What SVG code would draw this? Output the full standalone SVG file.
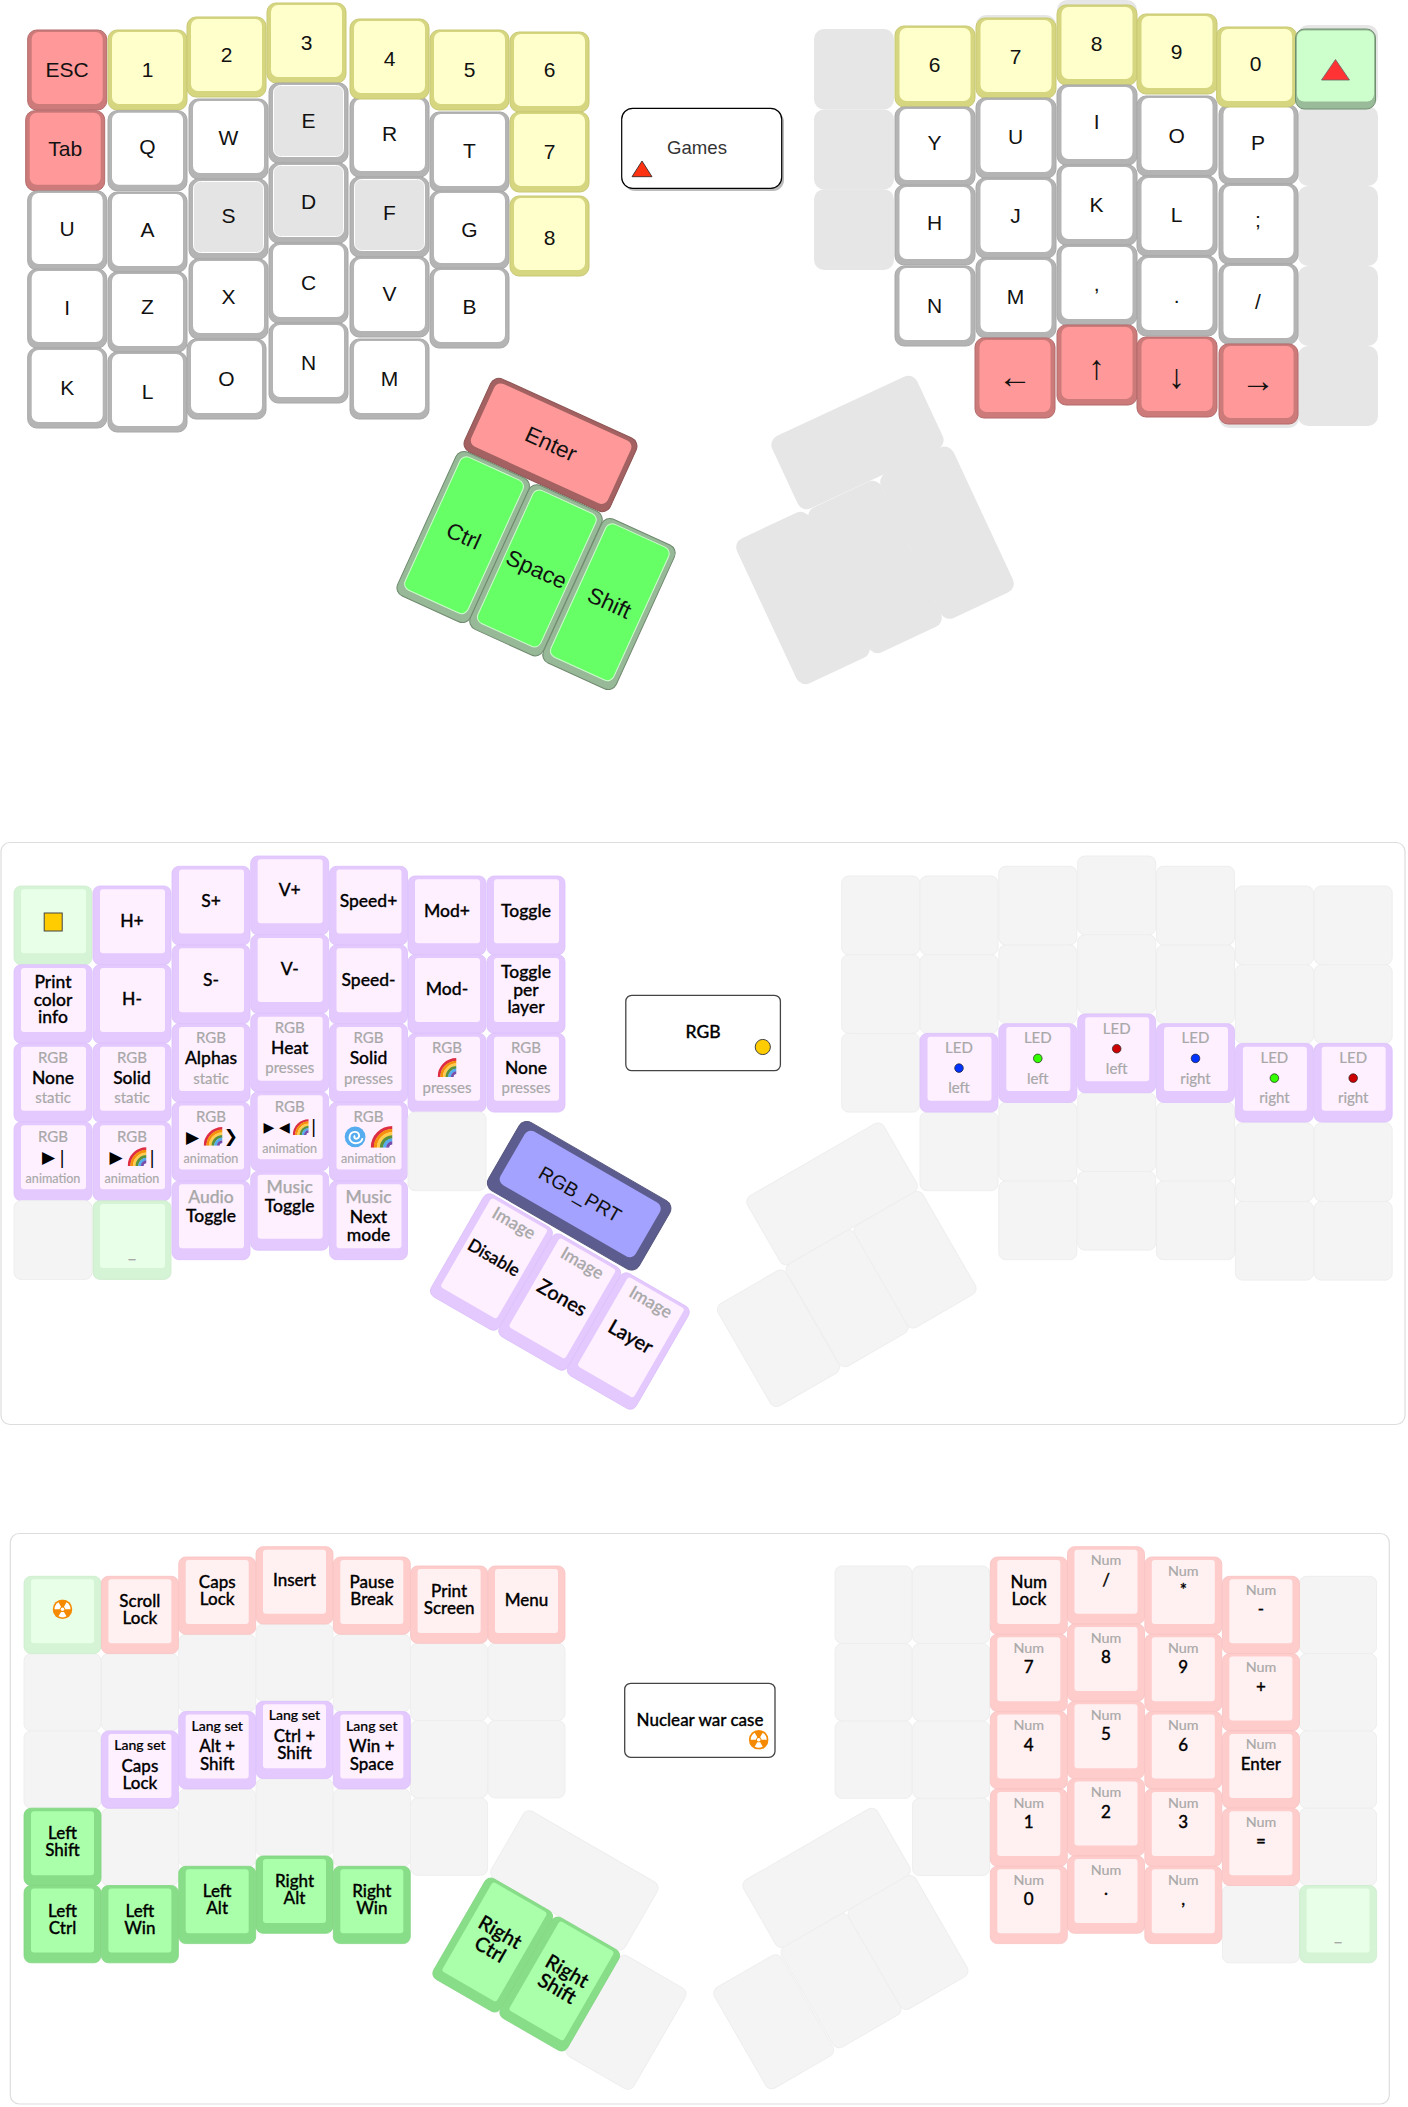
<svg xmlns="http://www.w3.org/2000/svg" xmlns:xlink="http://www.w3.org/1999/xlink" width="1408" height="2107" viewBox="0 0 1408 2107">
<style>
text{text-anchor:middle}
.s1 text{font-family:"Liberation Sans",Arial,sans-serif;font-size:21px;fill:#111}
.s1 text.th{font-size:22.5px}
.s1 text.ar{font-size:34px}
.s2 text,.s3 text{font-family:Lato,"Noto Sans",sans-serif;font-size:17.5px;font-weight:500;fill:#000;stroke:#000;stroke-width:.3px}
.s3 text{font-size:17px}
.s2 text.u,.s3 text.u{font-size:15px;fill:#a8a8a8;stroke:#a8a8a8;stroke-width:.2px;font-weight:400}
.s3 text.u{font-size:14.3px}
.s2 text.an{font-size:12.6px;fill:#a8a8a8;stroke:#a8a8a8;stroke-width:.15px;font-weight:400}
.s2 text.g2,.s3 text.g2{font-size:17.5px;fill:#a8a8a8;stroke:#a8a8a8;stroke-width:.25px}
.s3 text.ls{font-size:14px;stroke-width:.2px}
.s3 text.th{font-size:20px}
.s2 text.big{font-size:20px}
.s2 text.sym{font-family:"DejaVu Sans",sans-serif;font-size:17px;font-weight:400;stroke:none}
.s2 text.sm{font-size:14px}
.s2 text.prtx{font-family:"Liberation Sans",sans-serif;font-size:19.5px;font-weight:400;stroke:none;fill:#111}
.frame{fill:#fff;stroke:#ddd;stroke-width:1.2}
.legend{fill:#fff;stroke:#444;stroke-width:1.3}
.g1{fill:#e6e6e6}
.g3{fill:#f4f4f4;stroke:#eee;stroke-width:1}
.w .o{fill:#b4b4b4;stroke:#a8a8a8}.w .i{fill:#fff}
.a .o{fill:#b4b4b4;stroke:#a8a8a8}.a .i{fill:#e4e4e4;stroke:#fff}
.y .o{fill:#d6d680;stroke:#c9c974}.y .i{fill:#ffc}
.r .o{fill:#cc7a7a;stroke:#b56a6a}.r .i{fill:#f99}
.lg .o{fill:#99bb99;stroke:#6f906f}.lg .i{fill:#cfc}
.en .o{fill:#a36161;stroke:#8f5454}.en .i{fill:#f99}
.gr .o{fill:#97b997;stroke:#6f8a6f}.gr .i{fill:#6f6;stroke:#cfc}
.p .o{fill:#e4c9ff;stroke:#dcc0fb;stroke-width:.8}.p .i{fill:#fef0ff}
.pg .o{fill:#d5f3d5;stroke:#cdeccd;stroke-width:.8}.pg .i{fill:#e8ffe8}
.rr .o{fill:#fcc;stroke:#f8c2c2;stroke-width:.8}.rr .i{fill:#fff1f1}
.gn .o{fill:#8d8;stroke:#84d684;stroke-width:.8}.gn .i{fill:#afa}
.prt .o{fill:#5c5c8e;stroke:#55557f}.prt .i{fill:#a3a3ff}
</style>
<defs>
<symbol id="rb" viewBox="0 0 36 36"><g fill="none" stroke-width="5.4"><path d="M3 36A33 33 0 0 1 36 3" stroke="#dd2e44"/><path d="M8 36A28 28 0 0 1 36 8" stroke="#f4900c"/><path d="M13 36A23 23 0 0 1 36 13" stroke="#ffcc4d"/><path d="M18 36A18 18 0 0 1 36 18" stroke="#5c913b"/><path d="M23 36A13 13 0 0 1 36 23" stroke="#55acee"/><path d="M28 36A8 8 0 0 1 36 28" stroke="#744eaa"/></g></symbol>
<symbol id="hz" viewBox="-10 -10 20 20"><circle r="9.8" fill="#f58a00"/><g fill="#fff"><path d="M1.5 2.6L4 6.93A8 8 0 0 1-4 6.93L-1.5 2.6Z"/><path d="M1.5-2.6L4-6.93A8 8 0 0 1 8 0L3 0Z"/><path d="M-3 0L-8 0A8 8 0 0 1-4-6.93L-1.5-2.6Z"/><circle r="1.8"/></g></symbol>
<symbol id="sw" viewBox="0 0 36 36"><circle cx="18" cy="18" r="17" fill="#55acee"/><path d="M30 20C29 28 18 31 12 26C6 20 9 10 18 10C25 10 27 19 21 21C17 22 15 18 18 16" fill="none" stroke="#fff" stroke-width="3"/></symbol>
</defs>
<rect width="1408" height="2107" fill="#fff"/>

<g id="layer-games" class="s1">
<g id="g1-a"><rect class="g1" x="976" y="15" width="80" height="80" rx="10"/></g>
<g id="g1-b"><rect class="g1" x="1057" y="0" width="80" height="80" rx="10"/></g>
<g id="g1-c"><rect class="g1" x="1219" y="348" width="80" height="80" rx="10"/></g>
<g id="g1-1"><rect class="g1" x="814" y="29" width="80" height="80.5" rx="10"/></g>
<g id="g1-2"><rect class="g1" x="814" y="109.5" width="80" height="80" rx="10"/></g>
<g id="g1-3"><rect class="g1" x="814" y="189.3" width="80" height="80.7" rx="10"/></g>
<g id="g1-4"><rect class="g1" x="1298" y="25" width="80" height="81" rx="10"/></g>
<g id="g1-5"><rect class="g1" x="1298" y="106" width="80" height="80" rx="10"/></g>
<g id="g1-6"><rect class="g1" x="1298" y="186" width="80" height="80" rx="10"/></g>
<g id="g1-7"><rect class="g1" x="1298" y="266" width="80" height="80" rx="10"/></g>
<g id="g1-8"><rect class="g1" x="1298" y="346" width="80" height="80" rx="10"/></g>
<g id="g1-t1" transform="translate(857.5,442.5) rotate(-25)"><rect class="g1" x="-80" y="-40" width="160" height="80" rx="10"/></g>
<g id="g1-t2" transform="translate(803,598) rotate(-25)"><rect class="g1" x="-40" y="-80" width="80" height="160" rx="10"/></g>
<g id="g1-t3" transform="translate(875,567) rotate(-25)"><rect class="g1" x="-40" y="-80" width="80" height="160" rx="10"/></g>
<g id="g1-t4" transform="translate(947,532.7) rotate(-25)"><rect class="g1" x="-40" y="-80" width="80" height="160" rx="10"/></g>

<g id="k-esc" class="r" transform="translate(27.7,30)"><rect class="o" width="79" height="80" rx="9"/><rect class="i" x="4" y="2" width="71" height="72" rx="7"/><text x="39.5" y="46.5">ESC</text></g>
<g id="k-1" class="y" transform="translate(108,30)"><rect class="o" width="79" height="80" rx="9"/><rect class="i" x="4" y="2" width="71" height="72" rx="7"/><text x="39.5" y="46.5">1</text></g>
<g id="k-2" class="y" transform="translate(187,17)"><rect class="o" width="79" height="80" rx="9"/><rect class="i" x="4" y="2" width="71" height="72" rx="7"/><text x="39.5" y="44.5">2</text></g>
<g id="k-3" class="y" transform="translate(267,3)"><rect class="o" width="79" height="80" rx="9"/><rect class="i" x="4" y="2" width="71" height="72" rx="7"/><text x="39.5" y="46.5">3</text></g>
<g id="k-5" class="y" transform="translate(430,30)"><rect class="o" width="79" height="80" rx="9"/><rect class="i" x="4" y="2" width="71" height="72" rx="7"/><text x="39.5" y="46.5">5</text></g>
<g id="k-6" class="y" transform="translate(510,32)"><rect class="o" width="79" height="80" rx="9"/><rect class="i" x="4" y="2" width="71" height="72" rx="7"/><text x="39.5" y="44.5">6</text></g>
<g id="k-tab" class="r" transform="translate(25.7,110.7)"><rect class="o" width="79" height="80" rx="9"/><rect class="i" x="4" y="2" width="71" height="72" rx="7"/><text x="39.5" y="45.8">Tab</text></g>
<g id="k-q" class="w" transform="translate(108,110.7)"><rect class="o" width="79" height="80" rx="9"/><rect class="i" x="4" y="2" width="71" height="72" rx="7"/><text x="39.5" y="43.5">Q</text></g>
<g id="k-w" class="w" transform="translate(189,99)"><rect class="o" width="79" height="80" rx="9"/><rect class="i" x="4" y="2" width="71" height="72" rx="7"/><text x="39.5" y="45.8">W</text></g>
<g id="k-e" class="a" transform="translate(269,83)"><rect class="o" width="79" height="80" rx="9"/><rect class="i" x="4.5" y="2.5" width="70" height="71" rx="7"/><text x="39.5" y="44.5">E</text></g>
<g id="k-r" class="w" transform="translate(350,97)"><rect class="o" width="79" height="80" rx="9"/><rect class="i" x="4" y="2" width="71" height="72" rx="7"/><text x="39.5" y="43.8">R</text></g>
<g id="k-4" class="y" transform="translate(350,19)"><rect class="o" width="79" height="80" rx="9"/><rect class="i" x="4" y="2" width="71" height="72" rx="7"/><text x="39.5" y="46.5">4</text></g>
<g id="k-t" class="w" transform="translate(430,112)"><rect class="o" width="79" height="80" rx="9"/><rect class="i" x="4" y="2" width="71" height="72" rx="7"/><text x="39.5" y="46.2">T</text></g>
<g id="k-7" class="y" transform="translate(510,112)"><rect class="o" width="79" height="80" rx="9"/><rect class="i" x="4" y="2" width="71" height="72" rx="7"/><text x="39.5" y="46.5">7</text></g>
<g id="k-u" class="w" transform="translate(27.7,191)"><rect class="o" width="79" height="79" rx="9"/><rect class="i" x="4" y="2" width="71" height="71" rx="7"/><text x="39.5" y="45.2">U</text></g>
<g id="k-a" class="w" transform="translate(108,192)"><rect class="o" width="79" height="80" rx="9"/><rect class="i" x="4" y="2" width="71" height="72" rx="7"/><text x="39.5" y="45.2">A</text></g>
<g id="k-s" class="a" transform="translate(189,179)"><rect class="o" width="79" height="80" rx="9"/><rect class="i" x="4.5" y="2.5" width="70" height="71" rx="7"/><text x="39.5" y="43.5">S</text></g>
<g id="k-d" class="a" transform="translate(269,163)"><rect class="o" width="79" height="80" rx="9"/><rect class="i" x="4.5" y="2.5" width="70" height="71" rx="7"/><text x="39.5" y="46.2">D</text></g>
<g id="k-f" class="a" transform="translate(350,177)"><rect class="o" width="79" height="80" rx="9"/><rect class="i" x="4.5" y="2.5" width="70" height="71" rx="7"/><text x="39.5" y="43.2">F</text></g>
<g id="k-g" class="w" transform="translate(430,191)"><rect class="o" width="79" height="78" rx="9"/><rect class="i" x="4" y="2" width="71" height="70" rx="7"/><text x="39.5" y="45.5">G</text></g>
<g id="k-8" class="y" transform="translate(510,196)"><rect class="o" width="79" height="80" rx="9"/><rect class="i" x="4" y="2" width="71" height="72" rx="7"/><text x="39.5" y="48.5">8</text></g>
<g id="k-i" class="w" transform="translate(27.7,269)"><rect class="o" width="79" height="79" rx="9"/><rect class="i" x="4" y="2" width="71" height="71" rx="7"/><text x="39.5" y="45.5">I</text></g>
<g id="k-z" class="w" transform="translate(108,272)"><rect class="o" width="79" height="80" rx="9"/><rect class="i" x="4" y="2" width="71" height="72" rx="7"/><text x="39.5" y="42">Z</text></g>
<g id="k-x" class="w" transform="translate(189,259)"><rect class="o" width="79" height="80" rx="9"/><rect class="i" x="4" y="2" width="71" height="72" rx="7"/><text x="39.5" y="44.5">X</text></g>
<g id="k-c" class="w" transform="translate(269,243)"><rect class="o" width="79" height="80" rx="9"/><rect class="i" x="4" y="2" width="71" height="72" rx="7"/><text x="39.5" y="46.5">C</text></g>
<g id="k-v" class="w" transform="translate(350,257)"><rect class="o" width="79" height="80" rx="9"/><rect class="i" x="4" y="2" width="71" height="72" rx="7"/><text x="39.5" y="43.5">V</text></g>
<g id="k-b" class="w" transform="translate(430,268)"><rect class="o" width="79" height="80" rx="9"/><rect class="i" x="4" y="2" width="71" height="72" rx="7"/><text x="39.5" y="45.5">B</text></g>
<g id="k-k" class="w" transform="translate(27.7,348)"><rect class="o" width="79" height="80" rx="9"/><rect class="i" x="4" y="2" width="71" height="72" rx="7"/><text x="39.5" y="46.5">K</text></g>
<g id="k-l" class="w" transform="translate(108,352)"><rect class="o" width="79" height="80" rx="9"/><rect class="i" x="4" y="2" width="71" height="72" rx="7"/><text x="39.5" y="46.5">L</text></g>
<g id="k-o" class="w" transform="translate(187,339)"><rect class="o" width="79" height="80" rx="9"/><rect class="i" x="4" y="2" width="71" height="72" rx="7"/><text x="39.5" y="46.5">O</text></g>
<g id="k-n" class="w" transform="translate(269,323)"><rect class="o" width="79" height="80" rx="9"/><rect class="i" x="4" y="2" width="71" height="72" rx="7"/><text x="39.5" y="46.5">N</text></g>
<g id="k-m" class="w" transform="translate(350,339)"><rect class="o" width="79" height="80" rx="9"/><rect class="i" x="4" y="2" width="71" height="72" rx="7"/><text x="39.5" y="46.5">M</text></g>

<g id="k-enter" class="en" transform="translate(550.5,445) rotate(24.5)"><rect class="o" x="-80" y="-40" width="160" height="80" rx="9"/><rect class="i" x="-75" y="-36" width="150" height="69" rx="7"/><text class="th" x="0" y="6.5">Enter</text></g>
<g id="k-ctrl" class="gr" transform="translate(463.2,537) rotate(24.5)"><rect class="o" x="-40" y="-79" width="80" height="158" rx="9"/><rect class="i" x="-34.5" y="-75" width="69" height="146" rx="7"/><text class="th" x="0" y="6.5">Ctrl</text></g>
<g id="k-space" class="gr" transform="translate(536,570.3) rotate(24.5)"><rect class="o" x="-40" y="-79" width="80" height="158" rx="9"/><rect class="i" x="-34.5" y="-75" width="69" height="146" rx="7"/><text class="th" x="0" y="6.5">Space</text></g>
<g id="k-shift" class="gr" transform="translate(609,604) rotate(24.5)"><rect class="o" x="-40" y="-79" width="80" height="158" rx="9"/><rect class="i" x="-34.5" y="-75" width="69" height="146" rx="7"/><text class="th" x="0" y="6.5">Shift</text></g>

<g id="legend-games"><rect x="624" y="111" width="160" height="80" rx="11" fill="#bbb"/><rect x="621.7" y="108.3" width="160" height="80" rx="11" fill="#fff" stroke="#000" stroke-width="1.2"/><text x="697" y="154" style="font-size:18.6px;fill:#333">Games</text><polygon points="642,161 652,176.7 632,176.7" fill="#f31" stroke="#222" stroke-width=".8"/></g>

<g id="r-6" class="y" transform="translate(895,26)"><rect class="o" width="80" height="81" rx="9"/><rect class="i" x="4.5" y="2" width="71" height="73" rx="7"/><text x="39.6" y="45.8">6</text></g>
<g id="r-7" class="y" transform="translate(976,18)"><rect class="o" width="80" height="80" rx="9"/><rect class="i" x="4.5" y="2" width="71" height="72" rx="7"/><text x="39.6" y="46.2">7</text></g>
<g id="r-8" class="y" transform="translate(1057,5)"><rect class="o" width="80" height="80" rx="9"/><rect class="i" x="4.5" y="2" width="71" height="72" rx="7"/><text x="39.6" y="45.8">8</text></g>
<g id="r-9" class="y" transform="translate(1137,14)"><rect class="o" width="80" height="80" rx="9"/><rect class="i" x="4.5" y="2" width="71" height="72" rx="7"/><text x="39.6" y="44.5">9</text></g>
<g id="r-y" class="w" transform="translate(895,107)"><rect class="o" width="80" height="79" rx="9"/><rect class="i" x="4.5" y="2" width="71" height="71" rx="7"/><text x="39.6" y="43.2">Y</text></g>
<g id="r-u" class="w" transform="translate(976,98)"><rect class="o" width="80" height="80" rx="9"/><rect class="i" x="4.5" y="2" width="71" height="72" rx="7"/><text x="39.6" y="45.5">U</text></g>
<g id="r-i" class="w" transform="translate(1057,85)"><rect class="o" width="80" height="80" rx="9"/><rect class="i" x="4.5" y="2" width="71" height="72" rx="7"/><text x="39.6" y="44.2">I</text></g>
<g id="r-o" class="w" transform="translate(1137,96)"><rect class="o" width="80" height="80" rx="9"/><rect class="i" x="4.5" y="2" width="71" height="72" rx="7"/><text x="39.6" y="46.5">O</text></g>
<g id="r-p" class="w" transform="translate(1219,105)"><rect class="o" width="79" height="79" rx="9"/><rect class="i" x="4.5" y="2" width="70" height="71" rx="7"/><text x="39" y="45.2">P</text></g>
<g id="r-0" class="y" transform="translate(1216.6,27)"><rect class="o" width="80" height="80" rx="9"/><rect class="i" x="4.5" y="2" width="71" height="72" rx="7"/><text x="39" y="43.8">0</text></g>
<g id="r-h" class="w" transform="translate(895,185)"><rect class="o" width="80" height="80" rx="9"/><rect class="i" x="4.5" y="2" width="71" height="72" rx="7"/><text x="39.6" y="45.2">H</text></g>
<g id="r-j" class="w" transform="translate(976,178)"><rect class="o" width="80" height="80" rx="9"/><rect class="i" x="4.5" y="2" width="71" height="72" rx="7"/><text x="39.6" y="44.5">J</text></g>
<g id="r-k" class="w" transform="translate(1057,165)"><rect class="o" width="80" height="80" rx="9"/><rect class="i" x="4.5" y="2" width="71" height="72" rx="7"/><text x="39.6" y="46.5">K</text></g>
<g id="r-l" class="w" transform="translate(1137,176)"><rect class="o" width="80" height="80" rx="9"/><rect class="i" x="4.5" y="2" width="71" height="72" rx="7"/><text x="39.6" y="45.5">L</text></g>
<g id="r-semi" class="w" transform="translate(1219,184)"><rect class="o" width="79" height="80" rx="9"/><rect class="i" x="4.5" y="2" width="70" height="72" rx="7"/><text x="39" y="42.7">;</text></g>
<g id="r-n" class="w" transform="translate(895,266)"><rect class="o" width="80" height="80" rx="9"/><rect class="i" x="4.5" y="2" width="71" height="72" rx="7"/><text x="39.6" y="46.5">N</text></g>
<g id="r-m" class="w" transform="translate(976,258)"><rect class="o" width="80" height="80" rx="9"/><rect class="i" x="4.5" y="2" width="71" height="72" rx="7"/><text x="39.6" y="46.2">M</text></g>
<g id="r-comma" class="w" transform="translate(1057,245)"><rect class="o" width="80" height="80" rx="9"/><rect class="i" x="4.5" y="2" width="71" height="72" rx="7"/><text x="39.6" y="46">,</text></g>
<g id="r-dot" class="w" transform="translate(1137,256)"><rect class="o" width="80" height="80" rx="9"/><rect class="i" x="4.5" y="2" width="71" height="72" rx="7"/><text x="39.6" y="47.3">.</text></g>
<g id="r-slash" class="w" transform="translate(1219,264)"><rect class="o" width="79" height="80" rx="9"/><rect class="i" x="4.5" y="2" width="70" height="72" rx="7"/><text x="39" y="44.7">/</text></g>
<g id="r-left" class="r" transform="translate(975,338)"><rect class="o" width="80" height="80" rx="9"/><rect class="i" x="4.5" y="2" width="71" height="72" rx="7"/><text class="ar" x="40" y="49.5">←</text></g>
<g id="r-up" class="r" transform="translate(1057,325)"><rect class="o" width="80" height="80" rx="9"/><rect class="i" x="4.5" y="2" width="71" height="72" rx="7"/><text class="ar" x="39.6" y="53.8">↑</text></g>
<g id="r-down" class="r" transform="translate(1137,337)"><rect class="o" width="80" height="80" rx="9"/><rect class="i" x="4.5" y="2" width="71" height="72" rx="7"/><text class="ar" x="39.6" y="50.8">↓</text></g>
<g id="r-right" class="r" transform="translate(1219,344)"><rect class="o" width="79" height="80" rx="9"/><rect class="i" x="4.5" y="2" width="70" height="72" rx="7"/><text class="ar" x="39" y="47.8">→</text></g>
<g id="r-tri" class="lg" transform="translate(1295.5,29)"><rect class="o" width="80" height="80" rx="9"/><rect class="i" x="1.5" y="1.5" width="77" height="71" rx="7"/><polygon points="40,30.5 54,51 26,51" fill="#f33" stroke="#666" stroke-width=".8"/></g>
</g>

<g id="layer-rgb" class="s2">
<rect id="frame-rgb" class="frame" x="1" y="842.5" width="1404" height="582" rx="9"/>
<g id="k2-sq" class="pg" transform="translate(14,886)"><rect class="o" width="78" height="78.7" rx="7"/><rect class="i" x="7" y="3.3" width="65" height="64" rx="3"/><rect x="30.2" y="27" width="18" height="18" fill="#fc0" stroke="#444"/></g>
<g id="k2-hp" class="p" transform="translate(93,886)"><rect class="o" width="78" height="78.7" rx="7"/><rect class="i" x="7" y="3.3" width="65" height="64" rx="3"/><text x="39" y="40.5">H+</text></g>
<g id="k2-sp" class="p" transform="translate(172,866.3)"><rect class="o" width="78" height="78.7" rx="7"/><rect class="i" x="7" y="3.3" width="65" height="64" rx="3"/><text x="39" y="40.5">S+</text></g>
<g id="k2-vp" class="p" transform="translate(250.7,856)"><rect class="o" width="78" height="78.7" rx="7"/><rect class="i" x="7" y="3.3" width="65" height="64" rx="3"/><text x="39" y="40">V+</text></g>
<g id="k2-spdp" class="p" transform="translate(329.5,866.3)"><rect class="o" width="78" height="78.7" rx="7"/><rect class="i" x="7" y="3.3" width="65" height="64" rx="3"/><text x="39" y="40.5">Speed+</text></g>
<g id="k2-modp" class="p" transform="translate(408,876)"><rect class="o" width="78" height="78.7" rx="7"/><rect class="i" x="7" y="3.3" width="65" height="64" rx="3"/><text x="39" y="40.5">Mod+</text></g>
<g id="k2-tog" class="p" transform="translate(487,876)"><rect class="o" width="78" height="78.7" rx="7"/><rect class="i" x="7" y="3.3" width="65" height="64" rx="3"/><text x="39" y="40.5">Toggle</text></g>

<g id="k2-print" class="p" transform="translate(14,964.7)"><rect class="o" width="78" height="78.7" rx="7"/><rect class="i" x="7" y="3.3" width="65" height="64" rx="3"/><text x="39" y="23.5">Print</text><text x="39" y="41">color</text><text x="39" y="58.5">info</text></g>
<g id="k2-hm" class="p" transform="translate(93,964.7)"><rect class="o" width="78" height="78.7" rx="7"/><rect class="i" x="7" y="3.3" width="65" height="64" rx="3"/><text x="39" y="40.5">H-</text></g>
<g id="k2-sm" class="p" transform="translate(172,945)"><rect class="o" width="78" height="78.7" rx="7"/><rect class="i" x="7" y="3.3" width="65" height="64" rx="3"/><text x="39" y="40.5">S-</text></g>
<g id="k2-vm" class="p" transform="translate(250.7,934.7)"><rect class="o" width="78" height="78.7" rx="7"/><rect class="i" x="7" y="3.3" width="65" height="64" rx="3"/><text x="39" y="40">V-</text></g>
<g id="k2-spdm" class="p" transform="translate(329.5,945)"><rect class="o" width="78" height="78.7" rx="7"/><rect class="i" x="7" y="3.3" width="65" height="64" rx="3"/><text x="39" y="40.5">Speed-</text></g>
<g id="k2-modm" class="p" transform="translate(408,954.7)"><rect class="o" width="78" height="78.7" rx="7"/><rect class="i" x="7" y="3.3" width="65" height="64" rx="3"/><text x="39" y="40.5">Mod-</text></g>
<g id="k2-togl" class="p" transform="translate(487,954.7)"><rect class="o" width="78" height="78.7" rx="7"/><rect class="i" x="7" y="3.3" width="65" height="64" rx="3"/><text x="39" y="23">Toggle</text><text x="39" y="41">per</text><text x="39" y="58">layer</text></g>

<g id="k2-none-s" class="p" transform="translate(14,1043.4)"><rect class="o" width="78" height="78.7" rx="7"/><rect class="i" x="7" y="3.3" width="65" height="64" rx="3"/><text class="u" x="39" y="19.8">RGB</text><text x="39" y="40.5">None</text><text class="u" x="39" y="60">static</text></g>
<g id="k2-solid-s" class="p" transform="translate(93,1043.4)"><rect class="o" width="78" height="78.7" rx="7"/><rect class="i" x="7" y="3.3" width="65" height="64" rx="3"/><text class="u" x="39" y="19.8">RGB</text><text x="39" y="40.5">Solid</text><text class="u" x="39" y="60">static</text></g>
<g id="k2-alphas" class="p" transform="translate(172,1023.7)"><rect class="o" width="78" height="78.7" rx="7"/><rect class="i" x="7" y="3.3" width="65" height="64" rx="3"/><text class="u" x="39" y="19.8">RGB</text><text x="39" y="40.5">Alphas</text><text class="u" x="39" y="60">static</text></g>
<g id="k2-heat" class="p" transform="translate(250.7,1013.4)"><rect class="o" width="78" height="78.7" rx="7"/><rect class="i" x="7" y="3.3" width="65" height="64" rx="3"/><text class="u" x="39" y="19.8">RGB</text><text x="39" y="40.5">Heat</text><text class="u" x="39" y="60">presses</text></g>
<g id="k2-solid-p" class="p" transform="translate(329.5,1023.7)"><rect class="o" width="78" height="78.7" rx="7"/><rect class="i" x="7" y="3.3" width="65" height="64" rx="3"/><text class="u" x="39" y="19.8">RGB</text><text x="39" y="40.5">Solid</text><text class="u" x="39" y="60">presses</text></g>
<g id="k2-rb-p" class="p" transform="translate(408,1033.4)"><rect class="o" width="78" height="78.7" rx="7"/><rect class="i" x="7" y="3.3" width="65" height="64" rx="3"/><text class="u" x="39" y="19.8">RGB</text><use href="#rb" xlink:href="#rb" x="29.5" y="24.5" width="19" height="19"/><text class="u" x="39" y="60">presses</text></g>
<g id="k2-none-p" class="p" transform="translate(487,1033.4)"><rect class="o" width="78" height="78.7" rx="7"/><rect class="i" x="7" y="3.3" width="65" height="64" rx="3"/><text class="u" x="39" y="19.8">RGB</text><text x="39" y="40.5">None</text><text class="u" x="39" y="60">presses</text></g>

<g id="k2-an1" class="p" transform="translate(14,1122)"><rect class="o" width="78" height="78.7" rx="7"/><rect class="i" x="7" y="3.3" width="65" height="64" rx="3"/><text class="u" x="39" y="19.8">RGB</text><text class="sym" x="34.6" y="41">▶</text><text class="sym" x="48" y="41.5">|</text><text class="an" x="39" y="60.5">animation</text></g>
<g id="k2-an2" class="p" transform="translate(93,1122)"><rect class="o" width="78" height="78.7" rx="7"/><rect class="i" x="7" y="3.3" width="65" height="64" rx="3"/><text class="u" x="39" y="19.8">RGB</text><text class="sym" x="23" y="41">▶</text><use href="#rb" xlink:href="#rb" x="34.5" y="25" width="19" height="19"/><text class="sym" x="59" y="41.5">|</text><text class="an" x="39" y="60.5">animation</text></g>
<g id="k2-an3" class="p" transform="translate(172,1102.3)"><rect class="o" width="78" height="78.7" rx="7"/><rect class="i" x="7" y="3.3" width="65" height="64" rx="3"/><text class="u" x="39" y="19.8">RGB</text><text class="sym" x="20.5" y="40.5">▶</text><use href="#rb" xlink:href="#rb" x="31.5" y="24.5" width="19" height="19"/><text class="sym" x="58.8" y="40">❯</text><text class="an" x="39" y="60.5">animation</text></g>
<g id="k2-an4" class="p" transform="translate(250.7,1092)"><rect class="o" width="78" height="78.7" rx="7"/><rect class="i" x="7" y="3.3" width="65" height="64" rx="3"/><text class="u" x="39" y="19.8">RGB</text><text class="sym sm" x="18.3" y="40">▶</text><text class="sym sm" x="33.6" y="40">◀</text><use href="#rb" xlink:href="#rb" x="42" y="27" width="16" height="16"/><text class="sym" x="63" y="41">|</text><text class="an" x="39" y="60.5">animation</text></g>
<g id="k2-an5" class="p" transform="translate(329.5,1102.3)"><rect class="o" width="78" height="78.7" rx="7"/><rect class="i" x="7" y="3.3" width="65" height="64" rx="3"/><text class="u" x="39" y="19.8">RGB</text><use href="#sw" xlink:href="#sw" x="14.6" y="23.5" width="22" height="22"/><use href="#rb" xlink:href="#rb" x="41" y="23.5" width="22" height="22"/><text class="an" x="39" y="60.5">animation</text></g>

<g id="g2-a"><rect class="g3" x="14" y="1200.7" width="78" height="78.7" rx="7"/></g>
<g id="k2-us" class="pg" transform="translate(93,1200.7)"><rect class="o" width="78" height="78.7" rx="7"/><rect class="i" x="7" y="3.3" width="65" height="64" rx="3"/><text class="g2" x="39" y="57.5">_</text></g>
<g id="k2-audio" class="p" transform="translate(172,1181)"><rect class="o" width="78" height="78.7" rx="7"/><rect class="i" x="7" y="3.3" width="65" height="64" rx="3"/><text class="g2" x="39" y="21.5">Audio</text><text x="39" y="40.5">Toggle</text></g>
<g id="k2-music" class="p" transform="translate(250.7,1171.5)"><rect class="o" width="78" height="78.7" rx="7"/><rect class="i" x="7" y="3.3" width="65" height="64" rx="3"/><text class="g2" x="39" y="21.5">Music</text><text x="39" y="40.5">Toggle</text></g>
<g id="k2-next" class="p" transform="translate(329.5,1181)"><rect class="o" width="78" height="78.7" rx="7"/><rect class="i" x="7" y="3.3" width="65" height="64" rx="3"/><text class="g2" x="39" y="21.5">Music</text><text x="39" y="42">Next</text><text x="39" y="59.5">mode</text></g>
<g id="g2-b"><rect class="g3" x="408" y="1112" width="78" height="78.7" rx="7"/></g>

<g id="k2-prt" class="prt" transform="translate(579.2,1195.7) rotate(30)"><rect class="o" x="-87" y="-39.3" width="174" height="78.7" rx="9"/><rect class="i" x="-78" y="-33" width="156" height="62" rx="7"/><text class="prtx" x="0" y="5">RGB_PRT</text></g>
<g id="k2-disable" class="p" transform="translate(491.4,1262) rotate(30)"><rect class="o" x="-39.3" y="-59" width="78.7" height="118" rx="7"/><rect class="i" x="-32" y="-56" width="65" height="103" rx="3"/><text class="g2" x="0" y="-39">Image</text><text x="0" y="1">Disable</text></g>
<g id="k2-zones" class="p" transform="translate(559.7,1302) rotate(30)"><rect class="o" x="-39.3" y="-59" width="78.7" height="118" rx="7"/><rect class="i" x="-32" y="-56" width="65" height="103" rx="3"/><text class="g2" x="0" y="-39">Image</text><text class="big" x="0" y="2">Zones</text></g>
<g id="k2-layer" class="p" transform="translate(628.2,1341) rotate(30)"><rect class="o" x="-39.3" y="-59" width="78.7" height="118" rx="7"/><rect class="i" x="-32" y="-56" width="65" height="103" rx="3"/><text class="g2" x="0" y="-39">Image</text><text class="big" x="0" y="2">Layer</text></g>

<g id="legend-rgb"><rect class="legend" x="625.8" y="995.3" width="154.6" height="75.4" rx="6"/><text x="703" y="1037.5">RGB</text><circle cx="762.8" cy="1047" r="7.6" fill="#fc0" stroke="#444" stroke-width="1"/></g>

<g id="g2-r1"><rect class="g3" x="841.7" y="876" width="78" height="78.7" rx="7"/></g>
<g id="g2-r2"><rect class="g3" x="841.7" y="954.7" width="78" height="78.7" rx="7"/></g>
<g id="g2-r3"><rect class="g3" x="841.7" y="1033.4" width="78" height="78.7" rx="7"/></g>
<g id="g2-r4"><rect class="g3" x="920" y="876" width="78" height="78.7" rx="7"/></g>
<g id="g2-r5"><rect class="g3" x="920" y="954.7" width="78" height="78.7" rx="7"/></g>
<g id="g2-r6"><rect class="g3" x="920" y="1112" width="78" height="78.7" rx="7"/></g>
<g id="g2-r7"><rect class="g3" x="998.8" y="866.3" width="78" height="78.7" rx="7"/></g>
<g id="g2-r8"><rect class="g3" x="998.8" y="945" width="78" height="78.7" rx="7"/></g>
<g id="g2-r9"><rect class="g3" x="998.8" y="1102.3" width="78" height="78.7" rx="7"/></g>
<g id="g2-r10"><rect class="g3" x="998.8" y="1181" width="78" height="78.7" rx="7"/></g>
<g id="g2-r11"><rect class="g3" x="1077.7" y="856" width="78" height="78.7" rx="7"/></g>
<g id="g2-r12"><rect class="g3" x="1077.7" y="934.7" width="78" height="78.7" rx="7"/></g>
<g id="g2-r13"><rect class="g3" x="1077.7" y="1092.7" width="78" height="78.7" rx="7"/></g>
<g id="g2-r14"><rect class="g3" x="1077.7" y="1171.4" width="78" height="78.7" rx="7"/></g>
<g id="g2-r15"><rect class="g3" x="1156.5" y="866.3" width="78" height="78.7" rx="7"/></g>
<g id="g2-r16"><rect class="g3" x="1156.5" y="945" width="78" height="78.7" rx="7"/></g>
<g id="g2-r17"><rect class="g3" x="1156.5" y="1102.3" width="78" height="78.7" rx="7"/></g>
<g id="g2-r18"><rect class="g3" x="1156.5" y="1181" width="78" height="78.7" rx="7"/></g>
<g id="g2-r19"><rect class="g3" x="1235.4" y="886" width="78" height="78.7" rx="7"/></g>
<g id="g2-r20"><rect class="g3" x="1235.4" y="964.7" width="78" height="78.7" rx="7"/></g>
<g id="g2-r21"><rect class="g3" x="1235.4" y="1122.7" width="78" height="78.7" rx="7"/></g>
<g id="g2-r22"><rect class="g3" x="1235.4" y="1201.4" width="78" height="78.7" rx="7"/></g>
<g id="g2-r23"><rect class="g3" x="1314.2" y="886" width="78" height="78.7" rx="7"/></g>
<g id="g2-r24"><rect class="g3" x="1314.2" y="964.7" width="78" height="78.7" rx="7"/></g>
<g id="g2-r25"><rect class="g3" x="1314.2" y="1122.7" width="78" height="78.7" rx="7"/></g>
<g id="g2-r26"><rect class="g3" x="1314.2" y="1201.4" width="78" height="78.7" rx="7"/></g>
<g id="g2-t1" transform="translate(832,1193.8) rotate(-30)"><rect class="g3" x="-78.7" y="-39.3" width="157.4" height="78.7" rx="7"/></g>
<g id="g2-t2" transform="translate(778.4,1338.3) rotate(-30)"><rect class="g3" x="-39.3" y="-59" width="78.7" height="118" rx="7"/></g>
<g id="g2-t3" transform="translate(847,1298.5) rotate(-30)"><rect class="g3" x="-39.3" y="-59" width="78.7" height="118" rx="7"/></g>
<g id="g2-t4" transform="translate(915,1259.7) rotate(-30)"><rect class="g3" x="-39.3" y="-59" width="78.7" height="118" rx="7"/></g>

<g id="led1" class="p" transform="translate(920,1033.4)"><rect class="o" width="78" height="78.7" rx="7"/><rect class="i" x="7.5" y="3.3" width="64" height="64" rx="3"/><text class="u" x="39" y="19.5">LED</text><circle cx="39" cy="34.7" r="4.3" fill="#03f" stroke="#222" stroke-width=".7"/><text class="u" x="39" y="60">left</text></g>
<g id="led2" class="p" transform="translate(998.8,1023.7)"><rect class="o" width="78" height="78.7" rx="7"/><rect class="i" x="7.5" y="3.3" width="64" height="64" rx="3"/><text class="u" x="39" y="19.5">LED</text><circle cx="39" cy="34.7" r="4.3" fill="#3f0" stroke="#222" stroke-width=".7"/><text class="u" x="39" y="60">left</text></g>
<g id="led3" class="p" transform="translate(1077.7,1014)"><rect class="o" width="78" height="78.7" rx="7"/><rect class="i" x="7.5" y="3.3" width="64" height="64" rx="3"/><text class="u" x="39" y="19.5">LED</text><circle cx="39" cy="34.7" r="4.3" fill="#c00" stroke="#222" stroke-width=".7"/><text class="u" x="39" y="60">left</text></g>
<g id="led4" class="p" transform="translate(1156.5,1023.7)"><rect class="o" width="78" height="78.7" rx="7"/><rect class="i" x="7.5" y="3.3" width="64" height="64" rx="3"/><text class="u" x="39" y="19.5">LED</text><circle cx="39" cy="34.7" r="4.3" fill="#03f" stroke="#222" stroke-width=".7"/><text class="u" x="39" y="60">right</text></g>
<g id="led5" class="p" transform="translate(1235.4,1043.4)"><rect class="o" width="78" height="78.7" rx="7"/><rect class="i" x="7.5" y="3.3" width="64" height="64" rx="3"/><text class="u" x="39" y="19.5">LED</text><circle cx="39" cy="34.7" r="4.3" fill="#3f0" stroke="#222" stroke-width=".7"/><text class="u" x="39" y="60">right</text></g>
<g id="led6" class="p" transform="translate(1314.2,1043.4)"><rect class="o" width="78" height="78.7" rx="7"/><rect class="i" x="7.5" y="3.3" width="64" height="64" rx="3"/><text class="u" x="39" y="19.5">LED</text><circle cx="39" cy="34.7" r="4.3" fill="#c00" stroke="#222" stroke-width=".7"/><text class="u" x="39" y="60">right</text></g>
</g>

<g id="layer-nuclear" class="s3">
<rect id="frame-nuclear" class="frame" x="10.3" y="1533.5" width="1379" height="570.5" rx="9"/>
<g id="g3-1"><rect class="g3" x="24" y="1653.6" width="77" height="77.3" rx="7"/></g>
<g id="g3-2"><rect class="g3" x="24" y="1730.9" width="77" height="77.3" rx="7"/></g>
<g id="g3-3"><rect class="g3" x="101.4" y="1653.6" width="77" height="77.3" rx="7"/></g>
<g id="g3-4"><rect class="g3" x="101.4" y="1808.2" width="77" height="77.3" rx="7"/></g>
<g id="g3-5"><rect class="g3" x="178.7" y="1634.3" width="77" height="77.3" rx="7"/></g>
<g id="g3-6"><rect class="g3" x="178.7" y="1789" width="77" height="77.3" rx="7"/></g>
<g id="g3-7"><rect class="g3" x="256" y="1624" width="77" height="77.3" rx="7"/></g>
<g id="g3-8"><rect class="g3" x="256" y="1778.6" width="77" height="77.3" rx="7"/></g>
<g id="g3-9"><rect class="g3" x="333.3" y="1634.3" width="77" height="77.3" rx="7"/></g>
<g id="g3-10"><rect class="g3" x="333.3" y="1789" width="77" height="77.3" rx="7"/></g>
<g id="g3-11"><rect class="g3" x="410.6" y="1643.3" width="77" height="77.3" rx="7"/></g>
<g id="g3-12"><rect class="g3" x="410.6" y="1720.6" width="77" height="77.3" rx="7"/></g>
<g id="g3-13"><rect class="g3" x="410.6" y="1798" width="77" height="77.3" rx="7"/></g>
<g id="g3-14"><rect class="g3" x="488" y="1643.3" width="77" height="77.3" rx="7"/></g>
<g id="g3-15"><rect class="g3" x="488" y="1720.6" width="77" height="77.3" rx="7"/></g>
<g id="g3-t1" transform="translate(574.4,1880.3) rotate(30)"><rect class="g3" x="-77.3" y="-38.6" width="154.6" height="77.3" rx="7"/></g>
<g id="g3-t2" transform="translate(626,2022.3) rotate(30)"><rect class="g3" x="-38.6" y="-58" width="77.3" height="116" rx="7"/></g>

<g id="k3-hz" class="pg" transform="translate(24,1576.3)"><rect class="o" width="77" height="77.3" rx="7"/><rect class="i" x="7" y="3" width="63" height="64" rx="3"/><use href="#hz" xlink:href="#hz" x="28.5" y="23" width="20" height="20"/></g>
<g id="k3-scroll" class="rr" transform="translate(101.4,1576.3)"><rect class="o" width="77" height="77.3" rx="7"/><rect class="i" x="7" y="3" width="63" height="64" rx="3"/><text x="38.5" y="31">Scroll</text><text x="38.5" y="48">Lock</text></g>
<g id="k3-caps" class="rr" transform="translate(178.7,1557)"><rect class="o" width="77" height="77.3" rx="7"/><rect class="i" x="7" y="3" width="63" height="64" rx="3"/><text x="38.5" y="31">Caps</text><text x="38.5" y="48">Lock</text></g>
<g id="k3-ins" class="rr" transform="translate(256,1546.7)"><rect class="o" width="77" height="77.3" rx="7"/><rect class="i" x="7" y="3" width="63" height="64" rx="3"/><text x="38.5" y="39.5">Insert</text></g>
<g id="k3-pause" class="rr" transform="translate(333.3,1557)"><rect class="o" width="77" height="77.3" rx="7"/><rect class="i" x="7" y="3" width="63" height="64" rx="3"/><text x="38.5" y="31">Pause</text><text x="38.5" y="48">Break</text></g>
<g id="k3-prt" class="rr" transform="translate(410.6,1566)"><rect class="o" width="77" height="77.3" rx="7"/><rect class="i" x="7" y="3" width="63" height="64" rx="3"/><text x="38.5" y="31">Print</text><text x="38.5" y="48">Screen</text></g>
<g id="k3-menu" class="rr" transform="translate(488,1566)"><rect class="o" width="77" height="77.3" rx="7"/><rect class="i" x="7" y="3" width="63" height="64" rx="3"/><text x="38.5" y="39.5">Menu</text></g>

<g id="k3-l1" class="p" transform="translate(101.4,1730.9)"><rect class="o" width="77" height="77.3" rx="7"/><rect class="i" x="7" y="3" width="63" height="64" rx="3"/><text class="ls" x="38.5" y="19">Lang set</text><text x="38.5" y="41">Caps</text><text x="38.5" y="58">Lock</text></g>
<g id="k3-l2" class="p" transform="translate(178.7,1711.6)"><rect class="o" width="77" height="77.3" rx="7"/><rect class="i" x="7" y="3" width="63" height="64" rx="3"/><text class="ls" x="38.5" y="19">Lang set</text><text x="38.5" y="40.5">Alt +</text><text x="38.5" y="58">Shift</text></g>
<g id="k3-l3" class="p" transform="translate(256,1701.3)"><rect class="o" width="77" height="77.3" rx="7"/><rect class="i" x="7" y="3" width="63" height="64" rx="3"/><text class="ls" x="38.5" y="19">Lang set</text><text x="38.5" y="40.5">Ctrl +</text><text x="38.5" y="58">Shift</text></g>
<g id="k3-l4" class="p" transform="translate(333.3,1711.6)"><rect class="o" width="77" height="77.3" rx="7"/><rect class="i" x="7" y="3" width="63" height="64" rx="3"/><text class="ls" x="38.5" y="19">Lang set</text><text x="38.5" y="40.5">Win +</text><text x="38.5" y="58">Space</text></g>

<g id="k3-lshift" class="gn" transform="translate(24,1808.2)"><rect class="o" width="77" height="77.3" rx="7"/><rect class="i" x="7" y="3" width="63" height="64" rx="3"/><text x="38.5" y="31">Left</text><text x="38.5" y="48">Shift</text></g>
<g id="k3-lctrl" class="gn" transform="translate(24,1885.5)"><rect class="o" width="77" height="77.3" rx="7"/><rect class="i" x="7" y="3" width="63" height="64" rx="3"/><text x="38.5" y="31">Left</text><text x="38.5" y="48">Ctrl</text></g>
<g id="k3-lwin" class="gn" transform="translate(101.4,1885.5)"><rect class="o" width="77" height="77.3" rx="7"/><rect class="i" x="7" y="3" width="63" height="64" rx="3"/><text x="38.5" y="31">Left</text><text x="38.5" y="48">Win</text></g>
<g id="k3-lalt" class="gn" transform="translate(178.7,1866.3)"><rect class="o" width="77" height="77.3" rx="7"/><rect class="i" x="7" y="3" width="63" height="64" rx="3"/><text x="38.5" y="31">Left</text><text x="38.5" y="48">Alt</text></g>
<g id="k3-ralt" class="gn" transform="translate(256,1856)"><rect class="o" width="77" height="77.3" rx="7"/><rect class="i" x="7" y="3" width="63" height="64" rx="3"/><text x="38.5" y="31">Right</text><text x="38.5" y="48">Alt</text></g>
<g id="k3-rwin" class="gn" transform="translate(333.3,1866.3)"><rect class="o" width="77" height="77.3" rx="7"/><rect class="i" x="7" y="3" width="63" height="64" rx="3"/><text x="38.5" y="31">Right</text><text x="38.5" y="48">Win</text></g>
<g id="k3-rctrl" class="gn" transform="translate(492.7,1945) rotate(30)"><rect class="o" x="-38.6" y="-58" width="77.3" height="116" rx="7"/><rect class="i" x="-31.5" y="-55" width="63" height="103" rx="3"/><text class="th" x="0" y="-8">Right</text><text class="th" x="0" y="12">Ctrl</text></g>
<g id="k3-rshift" class="gn" transform="translate(559.7,1984) rotate(30)"><rect class="o" x="-38.6" y="-58" width="77.3" height="116" rx="7"/><rect class="i" x="-31.5" y="-55" width="63" height="103" rx="3"/><text class="th" x="0" y="-8">Right</text><text class="th" x="0" y="12">Shift</text></g>

<g id="legend-nuclear"><rect class="legend" x="624.7" y="1683.3" width="150.3" height="74" rx="6"/><text x="700" y="1726">Nuclear war case</text><use href="#hz" xlink:href="#hz" x="748.7" y="1729.7" width="20" height="20"/></g>

<g id="g3-r1"><rect class="g3" x="835" y="1566" width="77" height="77.3" rx="7"/></g>
<g id="g3-r2"><rect class="g3" x="835" y="1643.6" width="77" height="77.3" rx="7"/></g>
<g id="g3-r3"><rect class="g3" x="835" y="1721" width="77" height="77.3" rx="7"/></g>
<g id="g3-r4"><rect class="g3" x="912.6" y="1566" width="77" height="77.3" rx="7"/></g>
<g id="g3-r5"><rect class="g3" x="912.6" y="1643.6" width="77" height="77.3" rx="7"/></g>
<g id="g3-r6"><rect class="g3" x="912.6" y="1721" width="77" height="77.3" rx="7"/></g>
<g id="g3-r7"><rect class="g3" x="912.6" y="1798.3" width="77" height="77.3" rx="7"/></g>
<g id="g3-r8"><rect class="g3" x="1299.6" y="1576.3" width="77" height="77.3" rx="7"/></g>
<g id="g3-r9"><rect class="g3" x="1299.6" y="1653.6" width="77" height="77.3" rx="7"/></g>
<g id="g3-r10"><rect class="g3" x="1299.6" y="1730.9" width="77" height="77.3" rx="7"/></g>
<g id="g3-r11"><rect class="g3" x="1299.6" y="1808.2" width="77" height="77.3" rx="7"/></g>
<g id="g3-r12"><rect class="g3" x="1222.4" y="1885.5" width="77" height="77.3" rx="7"/></g>
<g id="g3-t3" transform="translate(826.6,1877.8) rotate(-30)"><rect class="g3" x="-77.3" y="-38.6" width="154.6" height="77.3" rx="7"/></g>
<g id="g3-t4" transform="translate(773.6,2021.7) rotate(-30)"><rect class="g3" x="-38.6" y="-58" width="77.3" height="116" rx="7"/></g>
<g id="g3-t5" transform="translate(841,1980.8) rotate(-30)"><rect class="g3" x="-38.6" y="-58" width="77.3" height="116" rx="7"/></g>
<g id="g3-t6" transform="translate(908,1942.5) rotate(-30)"><rect class="g3" x="-38.6" y="-58" width="77.3" height="116" rx="7"/></g>

<g id="n-lock" class="rr" transform="translate(990.3,1557)"><rect class="o" width="77" height="77.3" rx="7"/><rect class="i" x="7" y="3" width="63" height="64" rx="3"/><text x="38.5" y="31">Num</text><text x="38.5" y="48">Lock</text></g>
<g id="n-7" class="rr" transform="translate(990.3,1634.3)"><rect class="o" width="77" height="77.3" rx="7"/><rect class="i" x="7" y="3" width="63" height="64" rx="3"/><text class="u" x="38.5" y="18.5">Num</text><text x="38.5" y="39">7</text></g>
<g id="n-4" class="rr" transform="translate(990.3,1711.6)"><rect class="o" width="77" height="77.3" rx="7"/><rect class="i" x="7" y="3" width="63" height="64" rx="3"/><text class="u" x="38.5" y="18.5">Num</text><text x="38.5" y="39">4</text></g>
<g id="n-1" class="rr" transform="translate(990.3,1789)"><rect class="o" width="77" height="77.3" rx="7"/><rect class="i" x="7" y="3" width="63" height="64" rx="3"/><text class="u" x="38.5" y="18.5">Num</text><text x="38.5" y="39">1</text></g>
<g id="n-0" class="rr" transform="translate(990.3,1866.3)"><rect class="o" width="77" height="77.3" rx="7"/><rect class="i" x="7" y="3" width="63" height="64" rx="3"/><text class="u" x="38.5" y="18.5">Num</text><text x="38.5" y="39">0</text></g>
<g id="n-slash" class="rr" transform="translate(1067.5,1546.7)"><rect class="o" width="77" height="77.3" rx="7"/><rect class="i" x="7" y="3" width="63" height="64" rx="3"/><text class="u" x="38.5" y="18.5">Num</text><text x="38.5" y="39">/</text></g>
<g id="n-8" class="rr" transform="translate(1067.5,1624)"><rect class="o" width="77" height="77.3" rx="7"/><rect class="i" x="7" y="3" width="63" height="64" rx="3"/><text class="u" x="38.5" y="18.5">Num</text><text x="38.5" y="39">8</text></g>
<g id="n-5" class="rr" transform="translate(1067.5,1701.3)"><rect class="o" width="77" height="77.3" rx="7"/><rect class="i" x="7" y="3" width="63" height="64" rx="3"/><text class="u" x="38.5" y="18.5">Num</text><text x="38.5" y="39">5</text></g>
<g id="n-2" class="rr" transform="translate(1067.5,1778.6)"><rect class="o" width="77" height="77.3" rx="7"/><rect class="i" x="7" y="3" width="63" height="64" rx="3"/><text class="u" x="38.5" y="18.5">Num</text><text x="38.5" y="39">2</text></g>
<g id="n-dot" class="rr" transform="translate(1067.5,1856)"><rect class="o" width="77" height="77.3" rx="7"/><rect class="i" x="7" y="3" width="63" height="64" rx="3"/><text class="u" x="38.5" y="18.5">Num</text><text x="38.5" y="39">.</text></g>
<g id="n-star" class="rr" transform="translate(1144.8,1557)"><rect class="o" width="77" height="77.3" rx="7"/><rect class="i" x="7" y="3" width="63" height="64" rx="3"/><text class="u" x="38.5" y="18.5">Num</text><text x="38.5" y="39">*</text></g>
<g id="n-9" class="rr" transform="translate(1144.8,1634.3)"><rect class="o" width="77" height="77.3" rx="7"/><rect class="i" x="7" y="3" width="63" height="64" rx="3"/><text class="u" x="38.5" y="18.5">Num</text><text x="38.5" y="39">9</text></g>
<g id="n-6" class="rr" transform="translate(1144.8,1711.6)"><rect class="o" width="77" height="77.3" rx="7"/><rect class="i" x="7" y="3" width="63" height="64" rx="3"/><text class="u" x="38.5" y="18.5">Num</text><text x="38.5" y="39">6</text></g>
<g id="n-3" class="rr" transform="translate(1144.8,1789)"><rect class="o" width="77" height="77.3" rx="7"/><rect class="i" x="7" y="3" width="63" height="64" rx="3"/><text class="u" x="38.5" y="18.5">Num</text><text x="38.5" y="39">3</text></g>
<g id="n-comma" class="rr" transform="translate(1144.8,1866.3)"><rect class="o" width="77" height="77.3" rx="7"/><rect class="i" x="7" y="3" width="63" height="64" rx="3"/><text class="u" x="38.5" y="18.5">Num</text><text x="38.5" y="39">,</text></g>
<g id="n-minus" class="rr" transform="translate(1222.4,1576.3)"><rect class="o" width="77" height="77.3" rx="7"/><rect class="i" x="7" y="3" width="63" height="64" rx="3"/><text class="u" x="38.5" y="18.5">Num</text><text x="38.5" y="39">-</text></g>
<g id="n-plus" class="rr" transform="translate(1222.4,1653.6)"><rect class="o" width="77" height="77.3" rx="7"/><rect class="i" x="7" y="3" width="63" height="64" rx="3"/><text class="u" x="38.5" y="18.5">Num</text><text x="38.5" y="39">+</text></g>
<g id="n-enter" class="rr" transform="translate(1222.4,1730.9)"><rect class="o" width="77" height="77.3" rx="7"/><rect class="i" x="7" y="3" width="63" height="64" rx="3"/><text class="u" x="38.5" y="18.5">Num</text><text x="38.5" y="39">Enter</text></g>
<g id="n-eq" class="rr" transform="translate(1222.4,1808.2)"><rect class="o" width="77" height="77.3" rx="7"/><rect class="i" x="7" y="3" width="63" height="64" rx="3"/><text class="u" x="38.5" y="18.5">Num</text><text x="38.5" y="39">=</text></g>
<g id="k3-us" class="pg" transform="translate(1299.6,1885.5)"><rect class="o" width="77" height="77.3" rx="7"/><rect class="i" x="7" y="3" width="63" height="64" rx="3"/><text class="g2" x="38.5" y="55.5">_</text></g>
</g>
</svg>
